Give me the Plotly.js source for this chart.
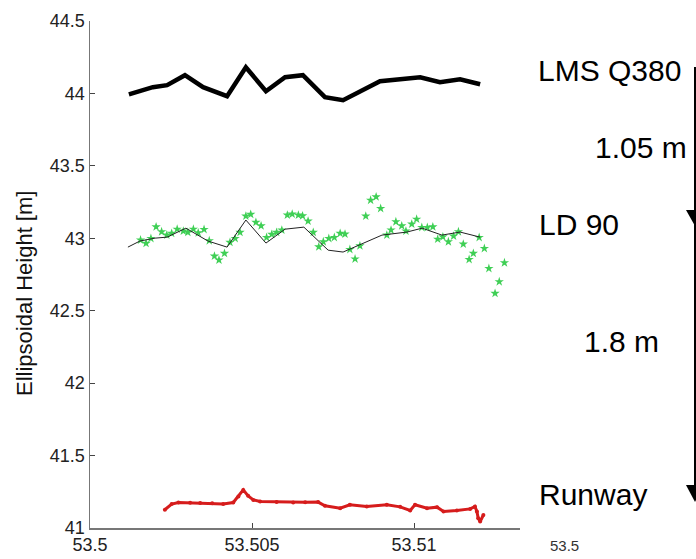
<!DOCTYPE html>
<html>
<head>
<meta charset="utf-8">
<script src="https://cdn.plot.ly/plotly-3.0.1.min.js"></script>
<style>html,body{margin:0;padding:0;background:#fff;}#chart{width:696px;height:559px;}</style>
</head>
<body>
<div id="chart"></div>
<script>
// LMS Q380 (thick black line)
const lmsX = [53.50120,53.50194,53.50238,53.50293,53.50349,53.50423,53.50481,53.50543,53.50602,53.50657,53.50725,53.50781,53.50895,53.51019,53.51080,53.51142,53.51204];
const lmsY = [43.994,44.043,44.057,44.126,44.043,43.981,44.181,44.015,44.112,44.126,43.974,43.953,44.084,44.112,44.077,44.098,44.063];

// LD 90 mean (thin black line)
const ldMeanX = [53.50117,53.50154,53.50201,53.50238,53.50296,53.50364,53.50423,53.50481,53.50543,53.50602,53.50660,53.50735,53.50781,53.50901,53.50978,53.51025,53.51086,53.51142,53.51204];
const ldMeanY = [42.939,42.981,43.001,43.008,43.070,42.981,42.939,43.126,42.967,43.063,43.077,42.918,42.905,43.022,43.043,43.070,43.022,43.043,43.008];

// LD 90 points (green)
const ldX = [53.50156,53.50173,53.50188,53.50204,53.50221,53.50237,53.50252,53.50269,53.50288,53.50302,53.50319,53.50334,53.50352,53.50368,53.50384,53.50398,53.50415,53.50432,53.50448,53.50463,53.50481,53.50496,53.50512,53.50528,53.50545,53.50561,53.50576,53.50592,53.50609,53.50624,53.50643,53.50656,53.50673,53.50689,53.50706,53.50720,53.50737,53.50754,53.50772,53.50787,53.50802,53.50818,53.50833,53.50851,53.50866,53.50883,53.50897,53.50916,53.50929,53.50944,53.50962,53.50975,53.50993,53.51008,53.51024,53.51041,53.51058,53.51073,53.51089,53.51106,53.51122,53.51137,53.51152,53.51170,53.51183,53.51201,53.51217,53.51231,53.51250,53.51263,53.51279];
const ldY = [42.988,42.965,42.999,43.079,43.045,43.022,43.034,43.063,43.050,43.041,43.063,43.038,43.061,42.983,42.877,42.850,42.896,42.972,42.999,43.041,43.153,43.165,43.110,43.086,43.006,43.027,43.041,43.057,43.160,43.167,43.160,43.155,43.119,43.041,42.941,42.976,42.999,43.006,43.034,43.029,42.923,42.857,42.948,43.153,43.263,43.286,43.206,43.022,43.057,43.114,43.086,43.050,43.098,43.132,43.075,43.075,43.079,42.994,43.010,42.976,43.015,43.045,42.960,42.854,42.896,43.006,42.930,42.792,42.620,42.700,42.831];

// Runway (red)
const rwX = [53.50231,53.50252,53.50273,53.50309,53.50340,53.50377,53.50411,53.50442,53.50458,53.50473,53.50488,53.50504,53.50525,53.50576,53.50627,53.50664,53.50704,53.50725,53.50772,53.50802,53.50854,53.50916,53.50957,53.50988,53.51003,53.51040,53.51071,53.51091,53.51132,53.51173,53.51188,53.51194,53.51198,53.51204,53.51214];
const rwY = [41.126,41.165,41.176,41.174,41.172,41.170,41.165,41.176,41.217,41.263,41.222,41.194,41.183,41.179,41.176,41.177,41.179,41.153,41.137,41.160,41.148,41.160,41.146,41.121,41.160,41.137,41.144,41.114,41.121,41.132,41.148,41.114,41.068,41.045,41.090];

const xTicks = [53.5, 53.505, 53.51];
const xTickText = ['53.5', '53.505', '53.51'];
const yTicks = [41, 41.5, 42, 42.5, 43, 43.5, 44, 44.5];
const yTickText = ['41', '41.5', '42', '42.5', '43', '43.5', '44', '44.5'];

const labels = ['LMS Q380', '1.05 m', 'LD 90', '1.8 m', 'Runway'];

const traces = [
  {x: lmsX, y: lmsY, type: 'scatter', mode: 'lines', line: {color: '#000', width: 4.5}, hoverinfo: 'skip'},
  {x: ldX, y: ldY, type: 'scatter', mode: 'markers', marker: {symbol: 'star', color: '#3fcf55', size: 7, line: {width: 0}}, hoverinfo: 'skip'},
  {x: ldMeanX, y: ldMeanY, type: 'scatter', mode: 'lines', line: {color: '#222', width: 1}, hoverinfo: 'skip'},
  {x: rwX, y: rwY, type: 'scatter', mode: 'lines+markers', line: {color: '#d61c1c', width: 3}, marker: {color: '#d61c1c', size: 4}, hoverinfo: 'skip'}
];

// pixel helpers for decorations outside the plot area
const L = 90, R = 520, T = 21, B = 528;
const px = v => (v - L) / (R - L);
const py = v => (B - v) / (B - T);

const annFont = {family: 'Liberation Sans, Arial, sans-serif', size: 30, color: '#000'};
const annotations = [
  {text: labels[0], x: px(536), y: py(70), xanchor: 'left', yanchor: 'middle'},
  {text: labels[1], x: px(593), y: py(148), xanchor: 'left', yanchor: 'middle'},
  {text: labels[2], x: px(537), y: py(224), xanchor: 'left', yanchor: 'middle'},
  {text: labels[3], x: px(582), y: py(341), xanchor: 'left', yanchor: 'middle'},
  {text: labels[4], x: px(537), y: py(494), xanchor: 'left', yanchor: 'middle'}
].map(a => Object.assign({xref: 'paper', yref: 'paper', showarrow: false, font: annFont}, a));

annotations.push({xref: 'paper', yref: 'paper', x: px(564), y: py(545), xanchor: 'center', yanchor: 'middle', text: '53.5', showarrow: false, font: {family: 'Liberation Sans, Arial, sans-serif', size: 15, color: '#333'}});
annotations.push({xref: 'paper', yref: 'paper', x: px(24), y: py(294), xanchor: 'center', yanchor: 'middle', textangle: -90, text: 'Ellipsoidal Height [m]', showarrow: false, font: {family: 'Liberation Sans, Arial, sans-serif', size: 22, color: '#111'}});

const shapes = [
  {type: 'line', xref: 'paper', yref: 'paper', x0: px(695), x1: px(695), y0: py(67), y1: py(500), line: {color: '#000', width: 2}},
  {type: 'path', xref: 'paper', yref: 'paper', path: `M ${px(686)},${py(210)} L ${px(704)},${py(210)} L ${px(695)},${py(226)} Z`, fillcolor: '#000', line: {width: 0}},
  {type: 'path', xref: 'paper', yref: 'paper', path: `M ${px(686)},${py(485)} L ${px(704)},${py(485)} L ${px(695)},${py(502)} Z`, fillcolor: '#000', line: {width: 0}}
];

const tickFont = {family: 'Liberation Sans, Arial, sans-serif', size: 18, color: '#222'};
const layout = {
  width: 696, height: 559,
  margin: {l: L, r: 696 - R, t: T, b: 559 - B, pad: 0},
  paper_bgcolor: '#fff', plot_bgcolor: '#fff',
  showlegend: false,
  xaxis: {range: [53.5, 53.51327], tickvals: xTicks, ticktext: xTickText, ticks: 'inside', ticklen: 5, tickcolor: '#444', showline: true, linecolor: '#777', linewidth: 1.5, showgrid: false, zeroline: false, tickfont: tickFont, fixedrange: true},
  yaxis: {range: [41, 44.5], tickvals: yTicks, ticktext: yTickText, ticks: 'inside', ticklen: 5, tickcolor: '#444', showline: true, linecolor: '#777', linewidth: 1.5, showgrid: false, zeroline: false, tickfont: tickFont, fixedrange: true},
  annotations: annotations,
  shapes: shapes
};

Plotly.newPlot('chart', traces, layout, {staticPlot: true, displayModeBar: false});
</script>
</body>
</html>
